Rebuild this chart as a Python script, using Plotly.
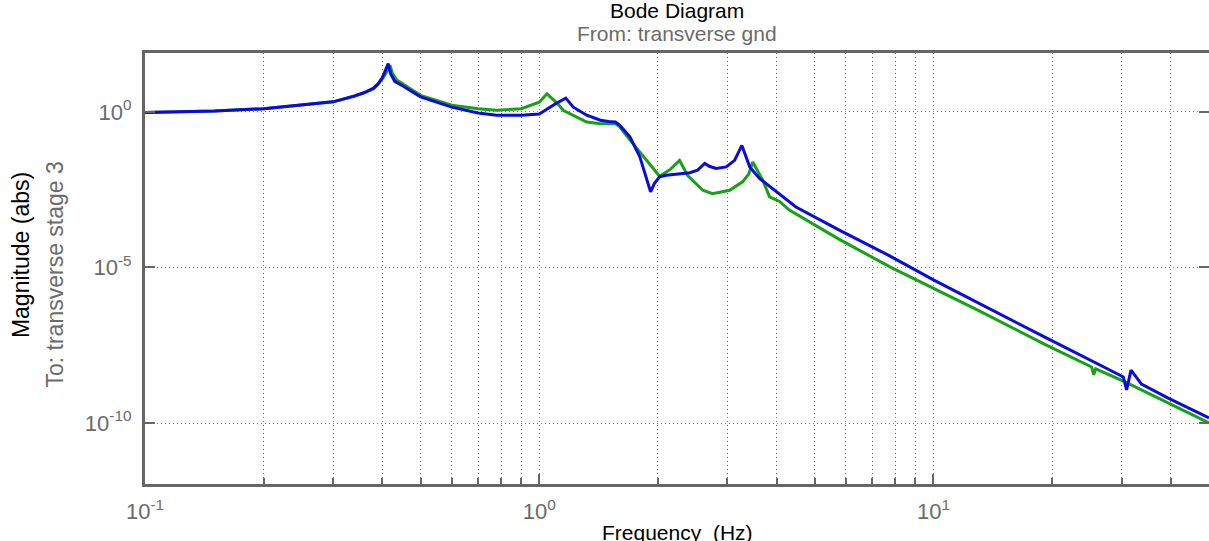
import plotly.graph_objects as go

# ---------------- data ----------------
freq_blue = [0.10, 0.15, 0.20, 0.25, 0.30, 0.34, 0.36, 0.38, 0.39, 0.40, 0.407, 0.414, 0.42, 0.43, 0.45,
             0.50, 0.60, 0.70, 0.78, 0.90, 1.00, 1.05, 1.10, 1.168, 1.22, 1.32, 1.43,
             1.50, 1.56, 1.60, 1.70, 1.80, 1.87, 1.916, 1.96, 2.02, 2.10, 2.27, 2.41,
             2.52, 2.63, 2.70, 2.81, 2.98, 3.13, 3.266, 3.42, 3.62, 4.07, 4.48, 5.77,
             7.72, 10.0, 13.03, 19.22, 28.33, 30.3, 30.9, 31.7, 33.7, 39.4, 50.0]
mag_blue = [0.955, 1.07, 1.26, 1.62, 2.09, 3.24, 4.17, 5.75, 7.94, 12.6, 21.4, 35.5, 16.6, 9.55, 6.92,
            3.02, 1.41, 0.912, 0.776, 0.776, 0.851, 1.26, 1.82, 2.75, 1.41, 0.776, 0.537,
            0.490, 0.468, 0.372, 0.155, 0.0355, 0.00813, 0.00269, 0.00501, 0.00813, 0.00912, 0.0102, 0.0110,
            0.0132, 0.0219, 0.0178, 0.0151, 0.0170, 0.0275, 0.0832, 0.0170, 0.00724, 0.00234, 8.71e-4, 1.58e-4,
            2.40e-5, 3.98e-6, 6.92e-7, 5.62e-8, 4.68e-9, 3.02e-9, 1.15e-9, 5.01e-9, 1.78e-9, 6.31e-10, 1.45e-10]

freq_green = [0.10, 0.15, 0.20, 0.25, 0.30, 0.34, 0.36, 0.38, 0.39, 0.40, 0.41, 0.418, 0.425, 0.435, 0.45,
              0.50, 0.60, 0.70, 0.78, 0.90, 1.00, 1.046, 1.11, 1.15, 1.32, 1.43, 1.56,
              1.60, 1.70, 1.87, 2.02, 2.15, 2.27, 2.38, 2.45, 2.60, 2.75, 3.04, 3.28,
              3.40, 3.48, 3.69, 3.84, 4.07, 4.31, 5.77, 7.80, 10.0, 13.03, 19.22, 25.2,
              25.5, 25.8, 30.62, 39.4, 50.0]
mag_green = [0.955, 1.07, 1.26, 1.62, 2.09, 3.16, 4.07, 5.50, 7.59, 11.5, 18.6, 31.6, 16.6, 10.5, 7.94,
             3.39, 1.62, 1.26, 1.12, 1.26, 2.04, 3.80, 1.91, 1.12, 0.468, 0.417, 0.417,
             0.331, 0.123, 0.0275, 0.00851, 0.0141, 0.0275, 0.00891, 0.00631, 0.00302, 0.00234, 0.00302, 0.00562,
             0.0100, 0.0245, 0.00631, 0.00186, 0.00132, 6.92e-4, 7.94e-5, 1.0e-5, 2.14e-6, 4.07e-7, 3.31e-8, 6.31e-9,
             3.55e-9, 5.50e-9, 2.09e-9, 4.47e-10, 1.0e-10]

x_major = [0.1, 1, 10]
x_major_text = ["10<sup>-1</sup>", "10<sup>0</sup>", "10<sup>1</sup>"]
x_minor = [0.2, 0.3, 0.4, 0.5, 0.6, 0.7, 0.8, 0.9,
           2, 3, 4, 5, 6, 7, 8, 9, 20, 30, 40]
y_major = [1e-10, 1e-5, 1]
y_major_text = ["10<sup>-10</sup>", "10<sup>-5</sup>", "10<sup>0</sup>"]

# ---------------- styling ----------------
FONT = "Liberation Sans, Arial, sans-serif"
FRAME = "#666666"
GRID = "#7a7a7a"
TXT_GRAY = "#6b6b6b"
DOT = "1px,3px"

fig = go.Figure()
fig.add_trace(go.Scatter(x=freq_green, y=mag_green, mode="lines",
                         line=dict(color="#18a018", width=3), hoverinfo="skip"))
fig.add_trace(go.Scatter(x=freq_blue, y=mag_blue, mode="lines",
                         line=dict(color="#0a0ae0", width=3), hoverinfo="skip"))
# empty trace to activate right-side tick axis
fig.add_trace(go.Scatter(x=[None], y=[None], yaxis="y2", hoverinfo="skip"))

fig.update_layout(
    width=1209, height=541,
    margin=dict(l=145, r=0, t=53, b=57),
    paper_bgcolor="white", plot_bgcolor="white",
    showlegend=False,
    font=dict(family=FONT, color=TXT_GRAY),
    xaxis=dict(
        type="log", range=[-1, 1.69897],
        showline=True, linecolor=FRAME, linewidth=3, mirror=True,
        ticks="inside", ticklen=10, tickwidth=2, tickcolor=FRAME,
        tickmode="array", tickvals=x_major, ticktext=x_major_text,
        tickfont=dict(family=FONT, size=22, color=TXT_GRAY),
        ticklabelstandoff=6,
        showgrid=True, gridcolor=GRID, griddash=DOT, gridwidth=1,
        zeroline=False,
        minor=dict(tickmode="array", tickvals=x_minor, ticks="inside", ticklen=6,
                   tickwidth=1.5, tickcolor=FRAME, showgrid=True, gridcolor=GRID,
                   griddash=DOT, gridwidth=1),
    ),
    yaxis=dict(
        type="log", range=[-11.96, 1.89],
        showline=True, linecolor=FRAME, linewidth=3, mirror=False,
        ticks="inside", ticklen=10, tickwidth=2, tickcolor=FRAME,
        tickmode="array", tickvals=y_major, ticktext=y_major_text,
        tickfont=dict(family=FONT, size=22, color=TXT_GRAY),
        ticklabelstandoff=6,
        showgrid=True, gridcolor=GRID, griddash=DOT, gridwidth=1,
        zeroline=False,
    ),
    yaxis2=dict(
        type="log", range=[-11.96, 1.89], overlaying="y", side="right", anchor="x",
        ticks="inside", ticklen=10, tickwidth=2, tickcolor=FRAME,
        tickmode="array", tickvals=y_major, showticklabels=False,
        showgrid=False, showline=False, zeroline=False,
    ),
)

annotations = [
    dict(text="Bode Diagram", x=0.5, y=1.099, font=dict(size=21, color="black")),
    dict(text="From: transverse gnd", x=0.5, y=1.046, font=dict(size=21, color=TXT_GRAY)),
    dict(text="Frequency  (Hz)", x=0.5, y=-0.113, font=dict(size=21, color="black")),
    dict(text="Magnitude (abs)", x=-0.117, y=0.53, textangle=-90,
         font=dict(size=23, color="black")),
    dict(text="To: transverse stage 3", x=-0.085, y=0.485, textangle=-90,
         font=dict(size=23, color=TXT_GRAY)),
]
for a in annotations:
    fig.add_annotation(xref="paper", yref="paper", showarrow=False,
                       xanchor="center", yanchor="middle", **a)

fig.write_html("out.html")
